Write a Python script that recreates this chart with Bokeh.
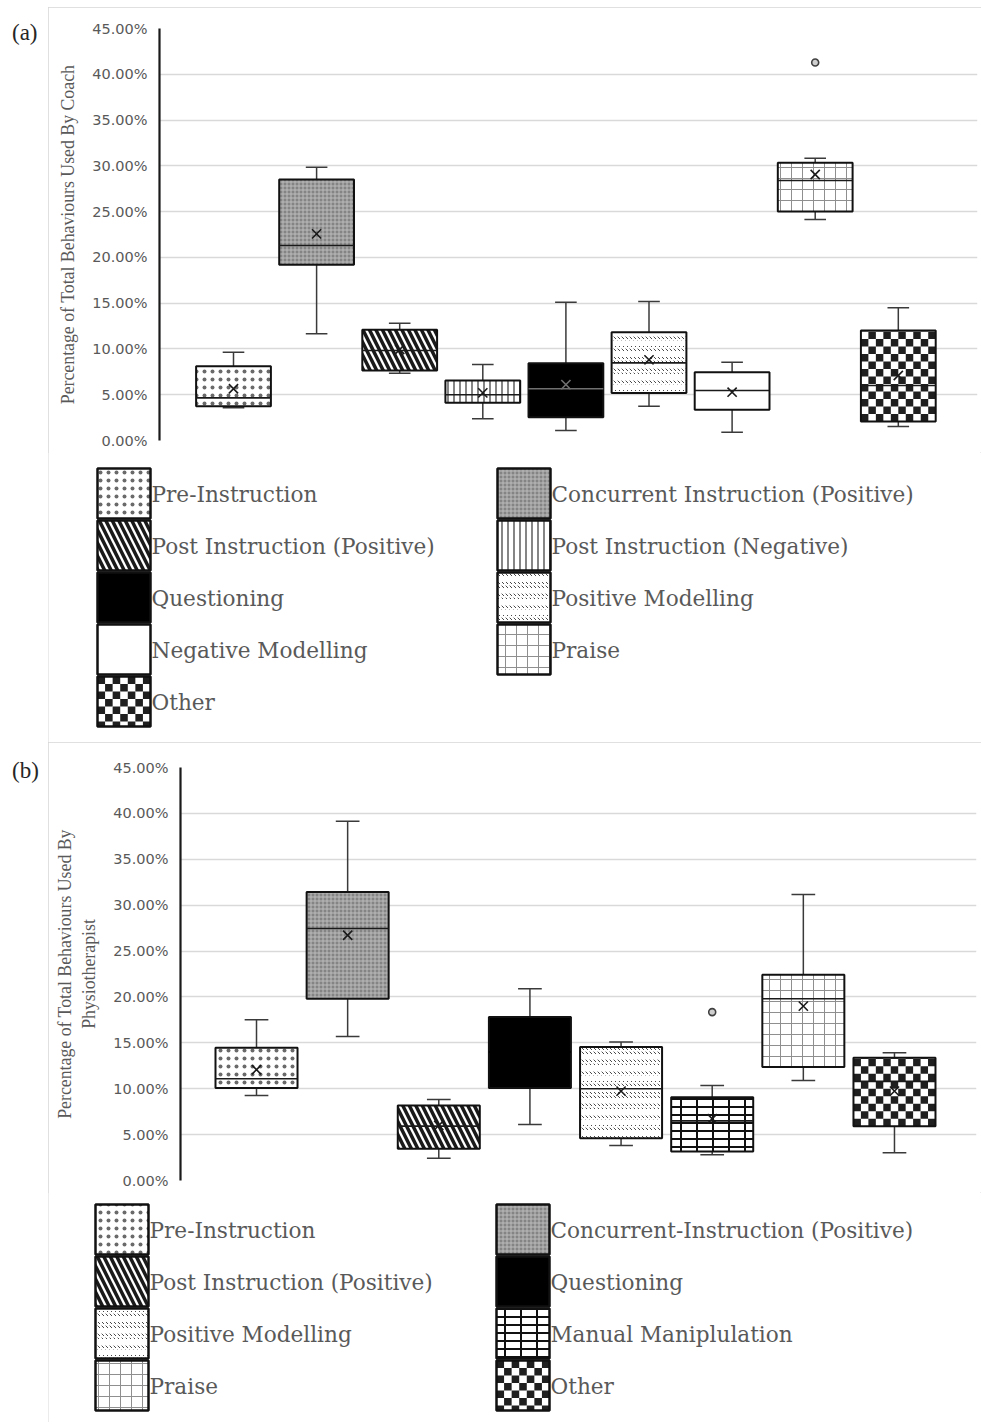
import math
from bokeh.plotting import figure
from bokeh.models import (FixedTicker, PrintfTickFormatter, Range1d, ColumnDataSource, Div)
from bokeh.layouts import column, row
from bokeh.core.properties import value
from bokeh.embed import file_html
from bokeh.resources import INLINE

# ---------------- Panel (a): coach ----------------
a_labels = ["Pre-Instruction", "Concurrent Instruction (Positive)", "Post Instruction (Positive)",
            "Post Instruction (Negative)", "Questioning", "Positive Modelling",
            "Negative Modelling", "Praise", "Other"]
a_min = [3.57, 11.65, 7.35, 2.37, 1.09, 3.75, 0.91, 24.14, 1.53]
a_q1 = [3.75, 19.19, 7.65, 4.12, 2.55, 5.20, 3.35, 25.01, 2.07]
a_med = [4.66, 21.30, 9.83, 5.00, 5.65, 8.48, 5.46, 28.40, 6.00]
a_q3 = [8.10, 28.50, 12.09, 6.55, 8.45, 11.83, 7.46, 30.33, 12.01]
a_max = [9.65, 29.85, 12.80, 8.30, 15.10, 15.18, 8.55, 30.83, 14.49]
a_mean = [5.65, 22.57, 9.94, 5.20, 6.10, 8.81, 5.28, 29.05, 7.10]
a_out_cat = ["Praise"]
a_out_val = [41.28]

# ---------------- Panel (b): physiotherapist ----------------
b_labels = ["Pre-Instruction", "Concurrent-Instruction (Positive)", "Post Instruction (Positive)",
            "Questioning", "Positive Modelling", "Manual Maniplulation", "Praise", "Other"]
b_min = [9.27, 15.70, 2.43, 6.10, 3.82, 2.80, 10.90, 3.02]
b_q1 = [10.07, 19.81, 3.45, 10.07, 4.61, 3.16, 12.36, 5.92]
b_med = [11.09, 27.45, 5.92, 14.00, 10.00, 6.50, 19.81, 10.80]
b_q3 = [14.47, 31.44, 8.18, 17.81, 14.54, 9.08, 22.43, 13.38]
b_max = [17.52, 39.15, 8.83, 20.90, 15.08, 10.36, 31.15, 13.92]
b_mean = [12.07, 26.72, 6.00, 14.20, 9.74, 6.73, 19.00, 9.74]
b_out_cat = ["Manual Maniplulation"]
b_out_val = [18.35]

y_ticks = [0, 5, 10, 15, 20, 25, 30, 35, 40, 45]

# ---------------- fill styles (black & white patterns) ----------------
BASE = dict(fill="#ffffff", hatch=" ", hc="#000000", hs=8, hw=1,
            hatch2=None, hc2="#000000", hs2=8, hw2=1, checker=None, cc="#1f1f1f")
STYLE = {
    "Pre-Instruction": dict(hatch=".", hc="#6a6a6a", hs=8, hw=1.1),
    "Concurrent Instruction (Positive)": dict(fill="#848484", hatch="+", hc="#bcbcbc", hs=4, hw=1),
    "Concurrent-Instruction (Positive)": dict(fill="#848484", hatch="+", hc="#bcbcbc", hs=4, hw=1),
    "Post Instruction (Positive)": dict(hatch="\\", hc="#1a1a1a", hs=13, hw=3.5),
    "Post Instruction (Negative)": dict(hatch="|", hc="#333333", hs=6, hw=1.2),
    "Questioning": dict(fill="#000000"),
    "Positive Modelling": dict(hatch="`", hc="#4a4a4a", hs=4, hw=1,
                               hatch2="-", hc2="#ffffff", hs2=11, hw2=5),
    "Negative Modelling": dict(),
    "Praise": dict(hatch="+", hc="#8f8f8f", hs=11, hw=1),
    "Manual Maniplulation": dict(hatch="-", hc="#111111", hs=8, hw=2,
                                 hatch2="|", hc2="#111111", hs2=16, hw2=2),
    "Other": dict(checker=7.5, cc="#1f1f1f"),
}


def st(name):
    s = dict(BASE)
    s.update(STYLE[name])
    return s


def draw_patterned(fig, left, right, bottom, top, names, px_x, px_y, lw):
    ss = [st(n) for n in names]
    fig.quad(left=left, right=right, bottom=bottom, top=top,
             fill_color=[s["fill"] for s in ss], line_color=None,
             hatch_pattern=[s["hatch"] for s in ss], hatch_color=[s["hc"] for s in ss],
             hatch_scale=[s["hs"] for s in ss], hatch_weight=[s["hw"] for s in ss])
    idx = [i for i, s in enumerate(ss) if s["hatch2"]]
    if idx:
        fig.quad(left=[left[i] for i in idx], right=[right[i] for i in idx],
                 bottom=[bottom[i] for i in idx], top=[top[i] for i in idx],
                 fill_alpha=0, line_color=None,
                 hatch_pattern=[ss[i]["hatch2"] for i in idx], hatch_color=[ss[i]["hc2"] for i in idx],
                 hatch_scale=[ss[i]["hs2"] for i in idx], hatch_weight=[ss[i]["hw2"] for i in idx])
    cl, cr, cb, ct, cc = [], [], [], [], []
    for i, s in enumerate(ss):
        if not s["checker"]:
            continue
        x0, x1 = left[i], right[i]
        y0, y1 = min(bottom[i], top[i]), max(bottom[i], top[i])
        ncol = max(1, round((x1 - x0) / (s["checker"] * px_x)))
        cw = (x1 - x0) / ncol
        ch = s["checker"] * abs(px_y)
        nrow = int(math.ceil((y1 - y0) / ch - 1e-9))
        for rr in range(nrow):
            for c in range(ncol):
                if (rr + c) % 2 == 0:
                    cl.append(x0 + c * cw)
                    cr.append(x0 + (c + 1) * cw)
                    cb.append(y0 + rr * ch)
                    ct.append(min(y0 + (rr + 1) * ch, y1))
                    cc.append(s["cc"])
    if cl:
        fig.quad(left=cl, right=cr, bottom=cb, top=ct, fill_color=cc, line_color=None)
    fig.quad(left=left, right=right, bottom=bottom, top=top, fill_alpha=0,
             line_color="#111111", line_width=lw)


FIG_W = 933


def make_plot(labels, vmin, vq1, vmed, vq3, vmax, vmean, out_cat, out_val,
              fig_h, b_left, b_right, b_top, b_bottom, x_start, x_end, y_title, dark_inner):
    n = len(labels)
    xs = list(range(n))
    hw, cw = 0.45, 0.13
    p = figure(width=FIG_W, height=fig_h, output_backend="svg", toolbar_location=None,
               x_range=Range1d(x_start, x_end), y_range=Range1d(0, 45),
               x_axis_location=None, min_border_left=b_left, min_border_right=b_right,
               min_border_top=b_top, min_border_bottom=b_bottom,
               outline_line_color=None)
    p.xgrid.visible = False
    p.ygrid.grid_line_color = "#d9d9d9"
    p.ygrid.grid_line_width = 1.3
    p.yaxis.ticker = FixedTicker(ticks=y_ticks)
    p.yaxis.formatter = PrintfTickFormatter(format="%.2f%%")
    p.yaxis.axis_line_color = "#1a1a1a"
    p.yaxis.axis_line_width = 2.2
    p.yaxis.major_tick_line_color = None
    p.yaxis.minor_tick_line_color = None
    p.yaxis.major_tick_out = 0
    p.yaxis.major_tick_in = 0
    p.yaxis.major_label_standoff = 12
    p.yaxis.major_label_text_font = "DejaVu Sans"
    p.yaxis.major_label_text_font_size = "14.5px"
    p.yaxis.major_label_text_color = "#595959"
    p.yaxis.axis_label = y_title
    p.yaxis.axis_label_text_font = "Liberation Serif"
    p.yaxis.axis_label_text_font_size = "17.8px"
    p.yaxis.axis_label_text_font_style = "normal"
    p.yaxis.axis_label_text_color = "#595959"
    p.yaxis.axis_label_standoff = 11

    src = ColumnDataSource(dict(x=xs, cl=[x - cw for x in xs], cr=[x + cw for x in xs],
                                vmin=vmin, q1=vq1, q3=vq3, vmax=vmax))
    for y0, y1 in (("q3", "vmax"), ("vmin", "q1")):
        p.segment(x0="x", x1="x", y0=y0, y1=y1, source=src, line_color="#3a3a3a", line_width=1.5)
    for yy in ("vmax", "vmin"):
        p.segment(x0="cl", x1="cr", y0=yy, y1=yy, source=src, line_color="#3a3a3a", line_width=1.5)

    frame_w = FIG_W - b_left - b_right
    frame_h = fig_h - b_top - b_bottom
    px_x = (x_end - x_start) / frame_w
    px_y = 45.0 / frame_h
    lefts = [x - hw for x in xs]
    rights = [x + hw for x in xs]
    draw_patterned(p, lefts, rights, vq1, vq3, labels, px_x, px_y, 2)

    inner = [dark_inner if st(l)["fill"] == "#000000" else "#1a1a1a" for l in labels]
    p.segment(x0=lefts, x1=rights, y0=vmed, y1=vmed, line_color=inner, line_width=1.6)
    p.scatter(x=xs, y=vmean, marker="x", size=13, line_color=inner, line_width=1.6)

    ox = [labels.index(c) for c in out_cat]
    p.scatter(x=ox, y=out_val, marker="circle", size=7, fill_color="#cfcfcf",
              line_color="#404040", line_width=1.6)
    return p


def make_legend(labels, fig_h, col_x, top_y):
    lf = figure(width=FIG_W, height=fig_h, output_backend="svg", toolbar_location=None,
                x_range=Range1d(0, FIG_W), y_range=Range1d(fig_h, 0),
                x_axis_location=None, y_axis_location=None,
                min_border_left=0, min_border_right=0, min_border_top=0, min_border_bottom=0,
                outline_line_color=None)
    lf.grid.visible = False
    n = len(labels)
    sw, sh, pitch = 53, 50, 52
    L = [col_x[i % 2] for i in range(n)]
    R = [x + sw for x in L]
    T = [top_y + pitch * (i // 2) for i in range(n)]
    B = [t + sh for t in T]
    draw_patterned(lf, L, R, B, T, labels, 1.0, 1.0, 2.5)
    lf.text(x=[r + 1 for r in R], y=[t + sh / 2 + 1 for t in T], text=labels,
            text_font=value("DejaVu Serif"), text_font_size=value("21.6px"),
            text_color="#595959", text_baseline="middle")
    return row(lf, spacing=0)


def tag_div(tag, h, pad_top):
    return Div(text=('<div style="font-family: \'Liberation Serif\'; font-size: 23px; color: #262626; '
                     'padding-left: 12px; padding-top: %dpx; line-height: 1.15;">%s</div>' % (pad_top, tag)),
               width=48, height=h, margin=0)


FRAME = {"outline": "1.3px solid #d6d6d6", "outline-offset": "-1px"}

pa = make_plot(a_labels, a_min, a_q1, a_med, a_q3, a_max, a_mean, a_out_cat, a_out_val,
               fig_h=445, b_left=111, b_right=4, b_top=21, b_bottom=12,
               x_start=-0.8905, x_end=8.953,
               y_title="Percentage of Total Behaviours Used By Coach", dark_inner="#707070")
la = make_legend(a_labels, fig_h=290, col_x=(49, 449), top_y=16)

pb = make_plot(b_labels, b_min, b_q1, b_med, b_q3, b_max, b_mean, b_out_cat, b_out_val,
               fig_h=450, b_left=132, b_right=5, b_top=25, b_bottom=12,
               x_start=-0.834, x_end=7.900,
               y_title="Percentage of Total Behaviours Used By\nPhysiotherapist", dark_inner="#000000")
lb = make_legend(b_labels, fig_h=230, col_x=(47, 448), top_y=12)

panel_a = row(tag_div("(a)", 742, 20),
              column(pa, la, spacing=0, styles=FRAME, margin=(7, 0, 0, 0)), spacing=0)
panel_b = row(tag_div("(b)", 680, 16),
              column(pb, lb, spacing=0, styles=FRAME, margin=0), spacing=0)
layout = column(panel_a, panel_b, spacing=0)
open("out.html", "w").write(file_html(layout, INLINE))
